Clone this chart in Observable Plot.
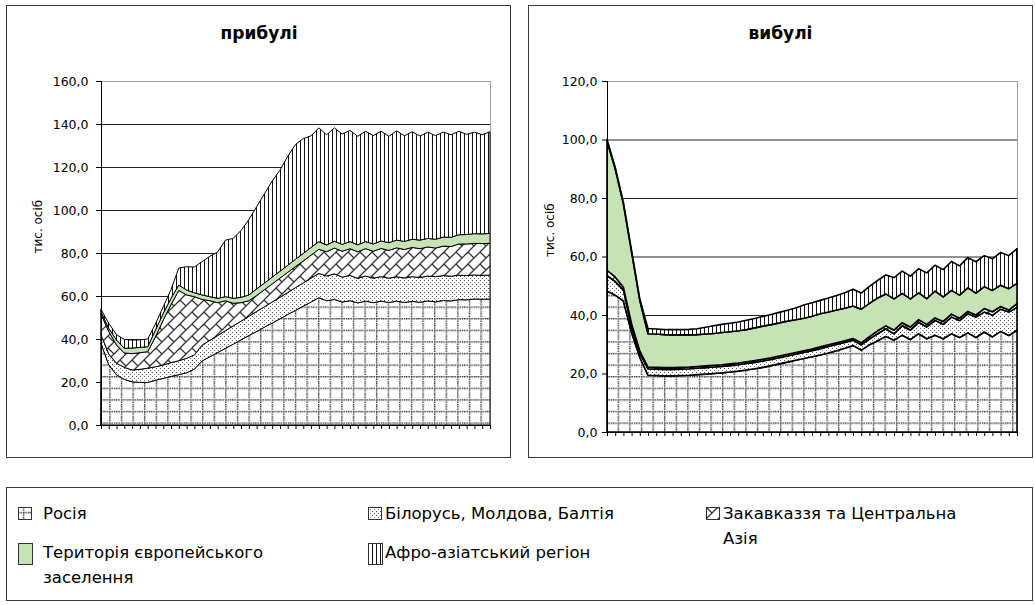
<!DOCTYPE html>
<html><head><meta charset="utf-8">
<script src="https://cdn.jsdelivr.net/npm/d3@7"></script>
<script src="https://cdn.jsdelivr.net/npm/@observablehq/plot@0.6"></script>
<style>
body{margin:0;background:#fff;font-family:"DejaVu Sans",Verdana,sans-serif;color:#000;}
#root{position:relative;width:1035px;height:605px;overflow:hidden;background:#fff;}
.box{position:absolute;border:1px solid #3a3a3a;box-sizing:border-box;}
.title{position:absolute;font-weight:bold;font-size:17px;line-height:20px;text-align:center;}
.chart{position:absolute;top:0;}
.lg{position:absolute;font-size:16.5px;line-height:25px;white-space:nowrap;}
.sw{position:absolute;}
</style></head><body>
<div id="root">
<svg width="0" height="0" style="position:absolute;left:0;top:0"><defs>
<pattern id="pRu" patternUnits="userSpaceOnUse" width="11.6" height="11.6">
<rect width="11.6" height="11.6" fill="#fff"/>
<line x1="0" y1="5.5" x2="11.6" y2="5.5" stroke="#333" stroke-width="1.4" stroke-dasharray="1.4 1"/>
<line x1="5.5" y1="0" x2="5.5" y2="11.6" stroke="#333" stroke-width="1.4" stroke-dasharray="1.4 1"/>
</pattern>
<pattern id="pBe" patternUnits="userSpaceOnUse" width="4" height="4">
<rect width="4" height="4" fill="#fff"/>
<rect x="0" y="0" width="1" height="1" fill="#555"/>
<rect x="2" y="2" width="1" height="1" fill="#777"/>
</pattern>
<pattern id="pZa" patternUnits="userSpaceOnUse" width="12" height="12">
<rect width="12" height="12" fill="#fff"/>
<path d="M0,12 L12,0 M-2,2 L2,-2 M10,14 L14,10 M0,0 L6,6" stroke="#333" stroke-width="1.25" fill="none"/>
</pattern>
<pattern id="pAf" patternUnits="userSpaceOnUse" width="4" height="4">
<rect width="4" height="4" fill="#fff"/>
<rect x="0" y="0" width="1" height="4" fill="#111"/>
</pattern>
</defs></svg>

<div class="box" style="left:6px;top:5px;width:505px;height:453px"></div>
<div class="box" style="left:528px;top:5px;width:505px;height:453px"></div>
<div class="box" style="left:6px;top:487px;width:1027px;height:114px"></div>

<div class="title" style="left:7px;top:23px;width:504px">прибулі</div>
<div class="title" style="left:528px;top:23px;width:505px">вибулі</div>

<div id="left" class="chart" style="left:0px"></div>
<div id="right" class="chart" style="left:520px"></div>

<svg class="sw" style="left:18px;top:507px" width="14" height="13"><rect x="0.5" y="0.5" width="13" height="12" fill="url(#pRu)" stroke="#333"/></svg>
<div class="lg" style="left:43px;top:501px">Росія</div>
<svg class="sw" style="left:368px;top:507px" width="14" height="13"><rect x="0.5" y="0.5" width="13" height="12" fill="url(#pBe)" stroke="#333"/></svg>
<div class="lg" style="left:385px;top:501px">Білорусь, Молдова, Балтія</div>
<svg class="sw" style="left:706px;top:507px" width="14" height="13"><rect x="0.5" y="0.5" width="13" height="12" fill="url(#pZa)" stroke="#333"/></svg>
<div class="lg" style="left:723px;top:501px">Закавказзя та Центральна<br>Азія</div>
<svg class="sw" style="left:18px;top:543px" width="15" height="22"><rect x="0.5" y="0.5" width="14" height="21" fill="#c5e3b5" stroke="#333"/></svg>
<div class="lg" style="left:43px;top:540px">Територія європейського<br>заселення</div>
<svg class="sw" style="left:368px;top:543px" width="15" height="22"><rect x="0.5" y="0.5" width="14" height="21" fill="url(#pAf)" stroke="#333"/></svg>
<div class="lg" style="left:385px;top:540px">Афро-азіатський регіон</div>
</div>

<script>
const series = ["Росія", "Білорусь, Молдова, Балтія", "Закавказзя та Центральна Азія", "Територія європейського заселення", "Афро-азіатський регіон"];
const seriesFills = ["url(#pRu)", "url(#pBe)", "url(#pZa)", "#c5e3b5", "url(#pAf)"];

// прибулі (arrivals), thousand persons, 51 periods
const arrRussia = [38,28,23.3,21.2,20.1,19.8,19.8,20.8,21.7,22.6,23.4,24.3,26,29.8,31.8,33.7,35.7,37.6,39.6,41.6,43.5,45.5,47.4,49.4,51.4,53.3,55.3,57.2,59.2,57.8,58.4,57.2,57.8,56.8,57.6,56.9,57.6,57,57.6,57,57.5,57.1,57.7,57.3,57.9,57.7,58.3,58.2,58.6,58.5,58.6];
const arrBelarus = [4,5,5.4,5.6,5.5,6.1,6.6,6.3,6.2,6.4,6.5,6.7,6.6,7.4,7.6,7.9,8.2,8.5,8.7,8.9,9.3,9.5,9.8,10,10.2,10.6,10.8,11.1,11.3,11.5,11.9,11.6,11.8,11.4,11.7,11.4,11.4,11.3,11.3,11.4,11.5,11.5,11.6,11.7,11.6,11.5,11.4,11.3,11.2,11.1,11.1];
const arrCaucasus = [9.6,10.5,8.5,6.7,7.6,7.7,7.7,13.9,20.9,27,32.7,29.5,27.1,21.2,18.4,15.3,13.9,10.5,8.6,7.3,7.4,7.9,8.4,8.9,9.4,9.8,10.2,10.7,11.2,11.3,12,12,12.4,12.4,12.7,12.5,13.1,12.9,13.5,13.2,13.6,13.4,13.5,13.3,13.7,13.8,14.5,14.7,14.7,14.8,14.8];
const arrEurope = [1.1,1.5,2.3,2.2,2.6,2.5,2.3,3.2,3.1,3,2.5,2.3,1.8,2.1,1.9,2,1.9,2.3,2.5,2.7,3.1,3.1,3.2,3.2,3.3,3.4,3.5,3.6,3.6,3.1,3.2,3.2,3.3,3.2,3.3,3.4,3.5,3.6,3.6,3.8,3.8,4,4,4.1,4.2,4.3,4.3,4.4,4.5,4.5,4.6];
const arrAfroAsia = [1.1,2.3,2.5,4.1,3.7,3.5,3.6,2.8,3.1,4,7.9,10.8,12,15.5,18.8,21.6,26.3,27.9,31.1,35,38.2,41.5,44.7,47,50.7,53.4,53.4,51.9,52.9,51.3,52.7,51.3,51.7,50.5,51.3,50.4,51,49.5,50.8,49.1,50,48.4,49.4,48.2,48.8,47.7,48.1,46.6,47.2,46.1,47.3];

// вибулі (departures), thousand persons, 51 periods
const depRussia = [48.2,46.8,44.8,34,25.5,19.4,19.3,19.2,19.2,19.3,19.4,19.6,19.8,20,20.2,20.5,20.8,21.2,21.6,22.1,22.7,23.3,23.9,24.5,25.1,25.7,26.3,27,27.8,28.6,29.6,28,29.8,31.2,32.7,31.4,33.1,31.6,33.6,31.9,33.1,31.9,33.6,32.3,33.9,32.3,34.2,32.5,34.4,33,34.8];
const depBelarus = [5.3,4.7,3.7,2,1.5,2.2,2.2,2.2,2.2,2.2,2.2,2.2,2.2,2.2,2.2,2.2,2.2,2.2,2.2,2.2,2.1,2.1,2.1,2.1,2.1,2.1,2.2,2.2,2.1,2,1.8,1.8,2,2.4,2.6,2.2,3.2,3.2,3.9,4,5.1,4.9,5.7,5.8,6.5,7,6.8,7.4,7.6,8,7.8];
const depCaucasus = [1.8,1.5,1,1,0.7,0.6,0.6,0.6,0.6,0.6,0.6,0.6,0.6,0.6,0.6,0.6,0.6,0.6,0.6,0.6,0.6,0.6,0.6,0.6,0.6,0.6,0.6,0.6,0.6,0.6,0.6,0.7,0.8,1,1,1.2,1.1,1.1,0.9,0.9,0.8,1,1,0.8,0.8,0.7,1.2,1.2,0.9,0.7,1.3];
const depEurope = [44.2,37,28.5,24.5,17.3,11.4,11.4,11.3,11.2,11.1,11,10.9,10.9,10.9,11,11,11,11,11.2,11.3,11.3,11.3,11.3,11.2,11.1,11.2,11.3,11.2,11.2,11.1,11.1,11.5,11.4,11.2,10.9,10.7,10,9.6,9.2,8.8,9.2,8.4,8.1,7.9,8.1,7.5,7.5,7.3,7.3,7.3,6.9];
const depAfroAsia = [0.5,0.5,0.5,0.5,0.5,1.8,1.7,1.7,1.8,1.8,1.9,2,2.3,2.6,2.8,2.9,3,3.2,3.2,3.3,3.5,3.6,3.7,4,4.5,4.6,4.6,4.8,5,5.3,5.7,5.5,5.8,6,6.5,7.3,7.6,7.8,8.2,8.8,8.8,9.3,9.9,10,10.3,10.7,10.6,10.8,11.2,11.3,11.9];

const leftTicks = [0,20,40,60,80,100,120,140,160];
const rightTicks = [0,20,40,60,80,100,120];
const yLabel = "тис. осіб";

function toRows(arrs) {
  const out = [];
  arrs.forEach((a, s) => a.forEach((v, i) => out.push({i, s: series[s], v})));
  return out;
}
const fmt = d => d.toFixed(1).replace(".", ",");

function makeChart(o) {
  const n = o.data.length / series.length;
  const idx = d3.range(n);
  return Plot.plot({
    width: o.width, height: o.height,
    marginLeft: o.ml, marginRight: o.mr, marginTop: o.mt, marginBottom: o.mb,
    x: {domain: [0, n - 1], axis: null, label: null},
    y: {domain: [0, o.ticks[o.ticks.length - 1]], axis: null, label: null},
    color: {domain: series, range: seriesFills},
    style: {fontFamily: "DejaVu Sans, Verdana, sans-serif", fontSize: "12px", color: "#000", background: "transparent", overflow: "visible"},
    marks: [
      Plot.frame({stroke: "#a0a0a0"}),
      Plot.gridY(o.ticks.slice(1, -1), {stroke: "#222", strokeOpacity: 1}),
      Plot.areaY(o.data, {x: "i", y: "v", z: "s", fill: "s", stroke: "#000", strokeWidth: o.sw, strokeLinejoin: "round"}),
      Plot.ruleX([0], {stroke: "#000"}),
      Plot.ruleY([0], {stroke: "#000"}),
      Plot.axisX(idx, {tickSize: 4, tickFormat: () => "", label: null, stroke: "#000"}),
      Plot.axisY(o.ticks, {tickSize: 5, tickPadding: o.tickPadding, tickFormat: fmt, label: null, fontSize: 12.5, stroke: "#000"}),
      Plot.text([yLabel], {frameAnchor: "left", rotate: -90, dx: o.labelDx, fontSize: 12})
    ]
  });
}

document.getElementById("left").appendChild(makeChart({
  data: toRows([arrRussia, arrBelarus, arrCaucasus, arrEurope, arrAfroAsia]),
  ticks: leftTicks, width: 510, height: 460, ml: 101, mr: 20, mt: 81, mb: 35,
  tickPadding: 8, labelDx: -63, sw: 1
}));
document.getElementById("right").appendChild(makeChart({
  data: toRows([depRussia, depBelarus, depCaucasus, depEurope, depAfroAsia]),
  ticks: rightTicks, width: 515, height: 460, ml: 87, mr: 18, mt: 81, mb: 28,
  tickPadding: 5, labelDx: -57, sw: 1.6
}));
</script>
</body></html>
